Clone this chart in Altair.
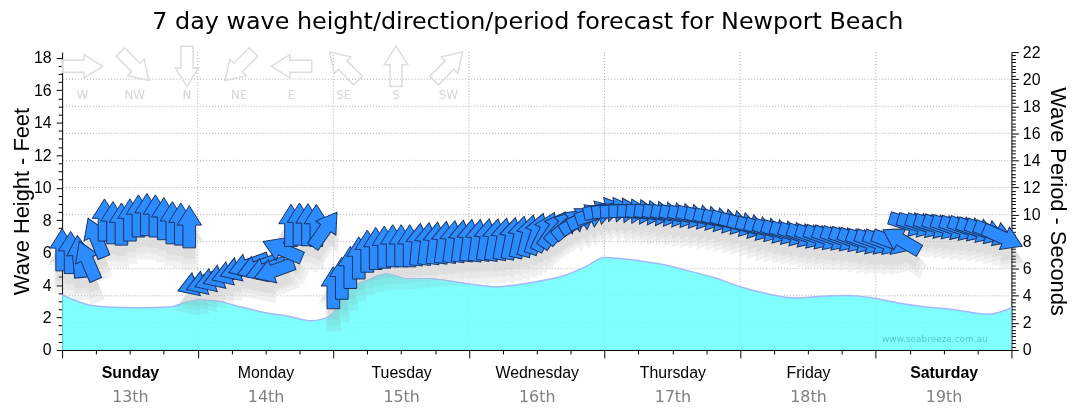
import altair as alt
import pandas as pd

# ---------------- text ----------------
TITLE = "7 day wave height/direction/period forecast for Newport Beach"
DAYS = ["Sunday", "Monday", "Tuesday", "Wednesday", "Thursday", "Friday", "Saturday"]
DATES = ["13th", "14th", "15th", "16th", "17th", "18th", "19th"]
WEEKEND = ["Sunday", "Saturday"]
WATERMARK = "www.seabreeze.com.au"
COMPASS_LABELS = ["W", "NW", "N", "NE", "E", "SE", "S", "SW"]
COMPASS_BEARING = [270, 315, 0, 45, 90, 135, 180, 225]

# ---------------- wave height (feet), hours from Sunday 00:00 ----------------
height_hours = [0, 5, 8, 13.5, 19, 22, 24, 27, 31, 36, 40.5, 44, 46.5, 48, 50.5, 54, 57.5, 61,
                64.5, 71.5, 77, 82, 89, 92.5, 96, 99.5, 103, 106.5, 110, 115.5, 120, 125, 129.5,
                134, 139, 143.5, 148, 153, 157.5, 164, 168]
height_feet = [3.4, 2.75, 2.65, 2.6, 2.65, 2.95, 3.1, 3.05, 2.7, 2.3, 2.05, 1.8, 1.95, 2.3, 3.7,
               4.3, 4.7, 4.4, 4.4, 4.1, 3.9, 4.1, 4.6, 5.1, 5.7, 5.6, 5.45, 5.25, 4.95, 4.45, 3.9,
               3.45, 3.2, 3.3, 3.35, 3.2, 2.9, 2.65, 2.5, 2.2, 2.6]

# ---------------- wave period (s) and direction (deg, coming from), every 1.5 h ----------------
sun_period = [7.4, 7.2, 6.9, 6.6, 8.3, 9.6, 9.4, 9.3, 9.6, 9.9, 10.0, 9.9, 9.7, 9.4, 9.3, 9.1]
sun_dir = [180, 180, 175, 157, 158, 180, 180, 180, 180, 180, 180, 180, 180, 180, 180, 180]
mon_period = [4.9, 5.0, 5.2, 5.45, 5.7, 6.0, 6.25, 6.1, 5.95, 5.85, 7.4, 9.2, 9.3, 9.25, 9.2, 8.9]
mon_dir = [70, 70, 70, 70, 70, 70, 70, 70, 70, 70, 113, 180, 180, 180, 180, 215]
tue_period = [4.6, 5.3, 6.1, 6.8, 7.3, 7.5, 7.6, 7.7, 7.7, 7.7, 7.8, 7.85, 7.9, 7.95, 8.0, 8.05]
tue_dir = [180, 180, 180, 180, 180, 180, 180, 180, 180, 180, 186, 187, 187, 188, 188, 188]
wed_period = [8.1, 8.1, 8.15, 8.15, 8.2, 8.25, 8.35, 8.45, 8.6, 8.75, 8.9, 9.1, 9.35, 9.6, 9.85, 10.1]
wed_dir = [188, 188, 189, 190, 190, 191, 192, 194, 198, 206, 214, 222, 230, 238, 245, 252]
thu_period = [10.35, 10.35, 10.3, 10.25, 10.2, 10.15, 10.1, 10.05, 10.0, 9.95, 9.9, 9.85, 9.75,
              9.65, 9.55, 9.45]
thu_dir = [258, 262, 266, 270, 273, 276, 278, 280, 281, 282, 283, 284, 284, 285, 285, 286]
fri_period = [9.3, 9.15, 9.0, 8.9, 8.8, 8.7, 8.6, 8.5, 8.42, 8.36, 8.3, 8.26, 8.22, 8.15, 8.08, 8.0]
fri_dir = [286, 286, 287, 287, 288, 288, 288, 289, 289, 289, 290, 290, 290, 290, 290, 290]
sat_period = [7.98, 7.95, 7.95, 8.1, 9.3, 9.25, 9.2, 9.15, 9.1, 9.05, 9.0, 8.95, 8.85, 8.75, 8.6, 8.3]
sat_dir = [290, 290, 290, 120, 287, 287, 288, 288, 289, 289, 289, 290, 290, 291, 292, 294]

periods = sun_period + mon_period + tue_period + wed_period + thu_period + fri_period + sat_period
dirs = sun_dir + mon_dir + tue_dir + wed_dir + thu_dir + fri_dir + sat_dir
STEP_H = 1.5
arrow_hours = [i * STEP_H for i in range(len(periods))]

# ---------------- styling ----------------
ARROW = "M0,-1L0.58,-0.08L0.3,-0.08L0.3,1L-0.3,1L-0.3,-0.08L-0.58,-0.08Z"
ARROW_SIZE = 1800
COMPASS_SIZE = 1650
GRID = "#ababab"

x_scale = alt.Scale(domain=[0, 168], nice=False, zero=False)
ft_scale = alt.Scale(domain=[0, 18.35], nice=False, zero=False)
sec_scale = alt.Scale(domain=[0, 22], nice=False, zero=False)


def js_list(xs):
    return "[" + ",".join("'" + x + "'" for x in xs) + "]"


def cond(test, a, b):
    return {"condition": {"test": test, "value": a}, "value": b}


day_expr = f"datum.value % 24 == 12 ? {js_list(DAYS)}[floor(datum.value / 24)] : ''"
bold_test = " || ".join(f"datum.value == {24 * DAYS.index(d) + 12}" for d in WEEKEND)
date_expr = f"{js_list(DATES)}[floor(datum.value / 24)]"
even_label = "datum.value % 2 == 0 ? '' + datum.value : ''"

x_axis = alt.Axis(
    orient="bottom", values=list(range(0, 169, 6)), labelExpr=day_expr,
    tickSize=cond("datum.value % 24 == 0", 8, 4), tickColor="black", domainColor="black",
    labelColor="black", labelFont="Liberation Sans", labelFontSize=16,
    labelFontWeight=cond(bold_test, "bold", "normal"), labelPadding=11,
    labelOverlap=False, labelFlush=False, grid=False, title=None,
)
date_axis = alt.Axis(
    orient="bottom", values=[24 * i + 12 for i in range(7)], labelExpr=date_expr,
    ticks=False, domain=False, labelColor="#808080", labelFont="DejaVu Sans",
    labelFontSize=16, labelPadding=39, labelOverlap=False, labelFlush=False,
    grid=False, title=None,
)
left_axis = alt.Axis(
    orient="left", values=[i * 0.5 for i in range(37)], labelExpr=even_label,
    tickSize=cond("datum.value % 2 == 0", 6, 4), tickColor="black", domainColor="black",
    labelColor="black", labelFont="Liberation Sans", labelFontSize=16, labelPadding=5,
    labelOverlap=False, labelFlush=False, grid=False,
    title="Wave Height - Feet", titleFont="Liberation Sans", titleFontSize=22,
    titleFontWeight="normal", titleColor="black", titlePadding=0,
)
right_axis = alt.Axis(
    orient="right", values=[i * 0.25 for i in range(89)], labelExpr=even_label,
    tickSize=cond("datum.value % 2 == 0", 7, 4), tickColor="black", domainColor="black",
    labelColor="black", labelFont="Liberation Sans", labelFontSize=16, labelPadding=4,
    labelOverlap=False, labelFlush=False, grid=False,
    title="Wave Period - Seconds", titleFont="Liberation Sans", titleFontSize=22,
    titleFontWeight="normal", titleColor="black", titlePadding=6,
)

# ---------------- grid ----------------
vgrid = alt.Chart(pd.DataFrame({"h": [24, 48, 72, 96, 120, 144]})).mark_rule(
    color=GRID, strokeDash=[1, 2], strokeWidth=1
).encode(x=alt.X("h:Q", scale=x_scale, axis=None))
hgrid = alt.Chart(pd.DataFrame({"s": list(range(2, 22, 2))})).mark_rule(
    color=GRID, strokeDash=[1, 2], strokeWidth=1
).encode(y=alt.Y("s:Q", scale=sec_scale, axis=None))
grid = alt.layer(vgrid, hgrid)

# ---------------- wave height area ----------------
area = alt.Chart(pd.DataFrame({"h": height_hours, "ft": height_feet})).mark_area(
    interpolate="monotone", fill="#6affff", fillOpacity=0.85,
    line={"color": "#a3b9ff", "strokeWidth": 1.5, "opacity": 1},
).encode(
    x=alt.X("h:Q", scale=x_scale, axis=x_axis),
    y=alt.Y("ft:Q", scale=ft_scale, axis=left_axis),
)

# ---------------- arrows ----------------
arr_base = alt.Chart(pd.DataFrame({"h": arrow_hours, "period": periods, "bearing": dirs})
                     ).transform_calculate(pointing="(datum.bearing + 180) % 360")
ang = alt.Angle("pointing:Q", scale=None)
xa = alt.X("h:Q", scale=x_scale, axis=None)
ya = alt.Y("period:Q", scale=sec_scale, axis=right_axis)

shadows = [
    arr_base.mark_point(shape=ARROW, filled=True, fill=c, strokeOpacity=0, opacity=1,
                        size=ARROW_SIZE * k, yOffset=dy, blend="darken").encode(
        x=xa, y=ya, angle=ang)
    for c, dy, k in [("#f1f1f1", 18, 1.5), ("#e8e8e8", 15, 1.15), ("#dedede", 13, 0.8)]
]
arrows = arr_base.mark_point(
    shape=ARROW, filled=True, fill="#2b8bff", stroke="#1a3460", strokeWidth=1,
    opacity=1, size=ARROW_SIZE,
).encode(x=xa, y=ya, angle=ang)

comp_base = alt.Chart(pd.DataFrame({"i": list(range(8)), "label": COMPASS_LABELS,
                                    "bearing": COMPASS_BEARING})).transform_calculate(
    h="3.6 + 9.25 * datum.i", pointing="(datum.bearing + 180) % 360")
compass_arrows = comp_base.mark_point(
    shape=ARROW, filled=False, stroke="#dddddd", strokeWidth=1.5, size=COMPASS_SIZE, opacity=1
).encode(x=xa, y=alt.YDatum(20.95, type="quantitative", scale=sec_scale, axis=right_axis),
         angle=ang)
compass_labels = comp_base.mark_text(font="DejaVu Sans", fontSize=12, color="#d6d6d6").encode(
    x=xa, y=alt.YDatum(18.85, type="quantitative", scale=sec_scale, axis=right_axis),
    text="label:N")

watermark = alt.Chart(pd.DataFrame({"t": [WATERMARK]})).mark_text(
    align="right", font="DejaVu Sans", fontSize=9, color="#56c8d0"
).encode(x=alt.XDatum(163.8, type="quantitative", scale=x_scale, axis=None),
         y=alt.YDatum(0.8, type="quantitative", scale=sec_scale, axis=right_axis),
         text="t:N")

arrow_group = alt.layer(*shadows, arrows, compass_arrows, compass_labels, watermark)

# ---------------- date labels (second x axis) ----------------
dates = alt.Chart(pd.DataFrame({"h": [24 * i + 12 for i in range(7)], "d": DATES})).mark_point(
    opacity=0).encode(x=alt.X("h:Q", scale=x_scale, axis=date_axis))

chart = alt.layer(grid, area, arrow_group, dates).resolve_scale(
    x="independent", y="independent"
).properties(
    width=956, height=300,
    title=alt.TitleParams(TITLE, font="DejaVu Sans", fontSize=24, fontWeight="normal",
                          color="black", offset=9, anchor="middle", dx=-9),
    autosize=alt.AutoSizeParams(type="none"),
    padding={"left": 54.5, "top": 43, "right": 61, "bottom": 54},
).configure_view(stroke="transparent")

chart.save("out.html", embed_options={"renderer": "svg", "actions": False})
